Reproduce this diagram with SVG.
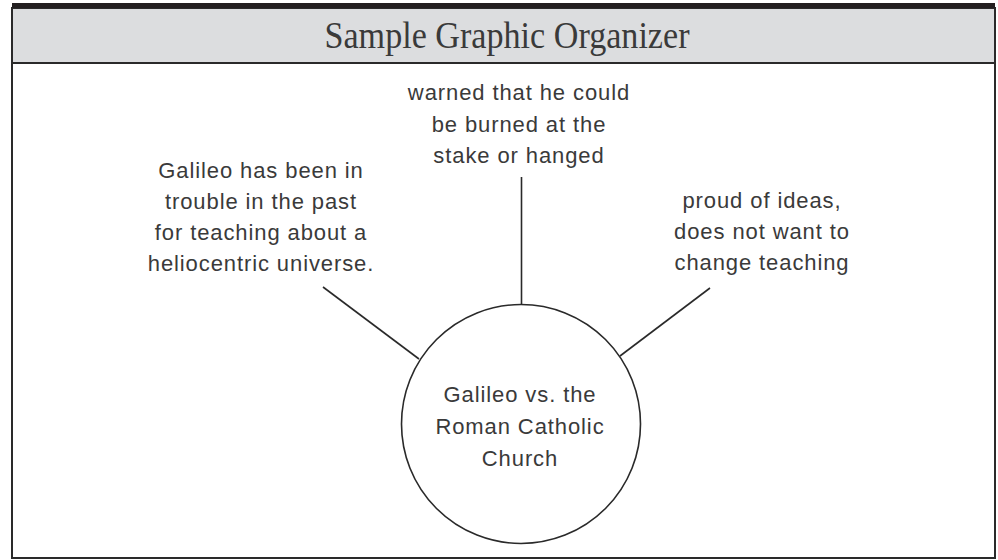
<svg xmlns="http://www.w3.org/2000/svg" width="998" height="560" viewBox="0 0 998 560">
  <style>
    .lbl { font-family: "Liberation Sans", Arial, sans-serif; font-size: 22px; letter-spacing: 0.9px; fill: #3a3a3a; text-anchor: middle; }
    .conn { stroke: #2a2a2a; stroke-width: 1.6; fill: none; }
  </style>
  <rect x="0" y="0" width="998" height="560" fill="#ffffff"/>
  <g id="frame">
    <rect x="12" y="8" width="983" height="550" fill="#ffffff" stroke="#2a2a2a" stroke-width="2"/>
    <rect x="12" y="8" width="983" height="55" fill="#dcdddf" stroke="#2a2a2a" stroke-width="2"/>
    <rect x="12" y="3" width="983" height="5" fill="#231f20"/>
    <text x="507" y="48" font-family="'Liberation Serif', 'Times New Roman', serif" font-size="37" fill="#3a3a3a" text-anchor="middle" textLength="365" lengthAdjust="spacingAndGlyphs">Sample Graphic Organizer</text>
  </g>
  <g id="connectors">
    <line class="conn" x1="521.5" y1="177" x2="521.5" y2="304"/>
    <line class="conn" x1="323" y1="287" x2="419" y2="359"/>
    <line class="conn" x1="620" y1="356" x2="710" y2="288"/>
  </g>
  <g id="center">
    <circle cx="521" cy="424" r="119.5" fill="#ffffff" stroke="#2a2a2a" stroke-width="1.6"/>
    <text class="lbl" x="520" y="402">Galileo vs. the</text>
    <text class="lbl" x="520" y="434">Roman Catholic</text>
    <text class="lbl" x="520" y="466">Church</text>
  </g>
  <g id="top">
    <text class="lbl" x="519" y="100">warned that he could</text>
    <text class="lbl" x="519" y="132">be burned at the</text>
    <text class="lbl" x="519" y="163">stake or hanged</text>
  </g>
  <g id="left">
    <text class="lbl" x="261" y="178">Galileo has been in</text>
    <text class="lbl" x="261" y="209">trouble in the past</text>
    <text class="lbl" x="261" y="240">for teaching about a</text>
    <text class="lbl" x="261" y="271">heliocentric universe.</text>
  </g>
  <g id="right">
    <text class="lbl" x="762" y="208">proud of ideas,</text>
    <text class="lbl" x="762" y="239">does not want to</text>
    <text class="lbl" x="762" y="270">change teaching</text>
  </g>
</svg>
